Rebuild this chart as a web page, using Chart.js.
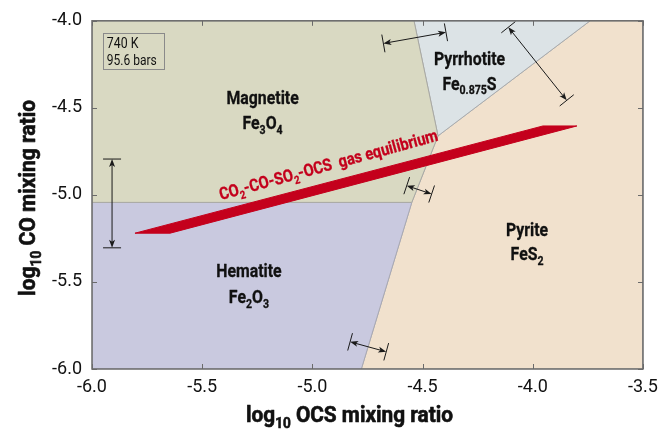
<!DOCTYPE html>
<html><head><meta charset="utf-8">
<script src="https://cdn.jsdelivr.net/npm/chart.js@4.4.1/dist/chart.umd.min.js"></script>
<style>html,body{margin:0;padding:0;background:#fff}#wrap{width:670px;height:432px;position:relative}</style>
</head><body><div id="wrap"><canvas id="c"></canvas></div>
<script>
// ---------- data ----------
const xTicks = [-6.0, -5.5, -5.0, -4.5, -4.0, -3.5];
const yTicks = [-6.0, -5.5, -5.0, -4.5, -4.0];

// stability fields (log10 OCS, log10 CO)
const magnetite  = [[-6.0,-4.0],[-4.539,-4.0],[-4.430,-4.661],[-4.549,-5.043],[-6.0,-5.043],[-6.0,-4.0]];
const hematite   = [[-6.0,-5.043],[-4.549,-5.043],[-4.778,-6.0],[-6.0,-6.0],[-6.0,-5.043]];
const pyrrhotite = [[-4.539,-4.0],[-3.740,-4.0],[-4.430,-4.661],[-4.539,-4.0]];
const pyrite     = [[-3.740,-4.0],[-3.5,-4.0],[-3.5,-6.0],[-4.778,-6.0],[-4.549,-5.043],[-4.430,-4.661],[-3.740,-4.0]];

// CO2-CO-SO2-OCS gas equilibrium band
const gasBand = [[-5.805,-5.220],[-5.646,-5.220],[-3.800,-4.604],[-3.954,-4.604],[-5.805,-5.220]];

// uncertainty arrows (start, end)
const errorBars = [
  [[-5.909,-4.794],[-5.909,-5.304]],
  [[-4.678,-4.130],[-4.394,-4.066]],
  [[-4.111,-4.037],[-3.846,-4.457]],
  [[-4.572,-4.947],[-4.459,-4.995]],
  [[-4.829,-5.844],[-4.665,-5.901]]
];

const fieldNames    = ['Magnetite','Pyrrhotite','Hematite','Pyrite'];
const fieldFormulas = ['Fe_{3}O_{4}','Fe_{0.875}S','Fe_{2}O_{3}','FeS_{2}'];
const conditions    = ['740 K','95.6 bars'];
const gasLabel      = 'CO_{2}-CO-SO_{2}-OCS  gas equilibrium';
const xTitle = 'log_{10} OCS mixing ratio';
const yTitle = 'log_{10} CO mixing ratio';

// ---------- layout / style ----------
const FONT = 'Roboto, "DejaVu Sans", sans-serif';
const SX = 0.88; // horizontal condensing of annotation text
const fieldLabelPos = [[-5.226,-4.442,-4.585],[-4.287,-4.216,-4.359],[-5.288,-5.433,-5.586],[-4.026,-5.197,-5.338]];
const gasLabelPos = [-5.415,-5.030];
const boxPos = [-5.951,-4.070,-5.673,-4.278];

const toXY = a => a.map(p => ({x:p[0], y:p[1]}));

function parseRich(s){
  const segs=[]; const re=/_\{([^}]*)\}/g; let last=0,m;
  while((m=re.exec(s))){ if(m.index>last) segs.push({t:s.slice(last,m.index),sub:false}); segs.push({t:m[1],sub:true}); last=re.lastIndex; }
  if(last<s.length) segs.push({t:s.slice(last),sub:false});
  return segs;
}
// draws text with subscripts; o.sx = horizontal scale, o.fit = target width, o.stroke = extra weight
function drawRich(ctx,s,x,y,size,weight,color,align,o){
  o=o||{};
  const segs=parseRich(s); const subSize=Math.round(size*0.64);
  let w=0;
  for(const g of segs){ ctx.font=`${weight} ${g.sub?subSize:size}px ${FONT}`; g.w=ctx.measureText(g.t).width; w+=g.w; }
  const sx = o.fit ? o.fit/w : (o.sx||1);
  ctx.save();
  ctx.translate(x,y); ctx.scale(sx,1);
  let cx = align==='left'?0:(align==='right'?-w:-w/2);
  ctx.fillStyle=color; ctx.strokeStyle=color; ctx.lineJoin='round';
  ctx.textAlign='left'; ctx.textBaseline='alphabetic';
  for(const g of segs){
    ctx.font=`${weight} ${g.sub?subSize:size}px ${FONT}`;
    const ty = g.sub?size*0.26:0;
    ctx.fillText(g.t,cx,ty);
    if(o.stroke){ ctx.lineWidth=o.stroke; ctx.strokeText(g.t,cx,ty); }
    cx+=g.w;
  }
  ctx.restore();
  return w*sx;
}

const deco = {
  id:'deco',
  afterDatasetsDraw(chart){
    const {ctx, chartArea:a, scales:{x,y}} = chart;
    const px=v=>x.getPixelForValue(v), py=v=>y.getPixelForValue(v);
    ctx.save();
    // uncertainty arrows
    ctx.strokeStyle='#1a1a1a'; ctx.fillStyle='#1a1a1a'; ctx.lineWidth=1;
    for(const [p,q] of errorBars){
      const x1=px(p[0]),y1=py(p[1]),x2=px(q[0]),y2=py(q[1]);
      const L=Math.hypot(x2-x1,y2-y1), ux=(x2-x1)/L, uy=(y2-y1)/L, nx=-uy, ny=ux;
      const cap=9, hl=8, hw=3;
      ctx.beginPath(); ctx.moveTo(x1+ux*4,y1+uy*4); ctx.lineTo(x2-ux*4,y2-uy*4); ctx.stroke();
      ctx.beginPath(); ctx.moveTo(x1+nx*cap,y1+ny*cap); ctx.lineTo(x1-nx*cap,y1-ny*cap);
      ctx.moveTo(x2+nx*cap,y2+ny*cap); ctx.lineTo(x2-nx*cap,y2-ny*cap); ctx.stroke();
      for(const [tx,ty,s] of [[x1,y1,1],[x2,y2,-1]]){
        ctx.beginPath(); ctx.moveTo(tx,ty);
        ctx.lineTo(tx+s*ux*hl+nx*hw, ty+s*uy*hl+ny*hw);
        ctx.lineTo(tx+s*ux*hl*0.75, ty+s*uy*hl*0.75);
        ctx.lineTo(tx+s*ux*hl-nx*hw, ty+s*uy*hl-ny*hw);
        ctx.closePath(); ctx.fill();
      }
    }
    // field labels
    fieldNames.forEach((n,i)=>{
      const [lx,ly1,ly2]=fieldLabelPos[i];
      drawRich(ctx,n,px(lx),py(ly1)+6.5,18,'bold','#111','center',{sx:SX,stroke:0.3});
      drawRich(ctx,fieldFormulas[i],px(lx),py(ly2)+6.5,18,'bold','#111','center',{sx:SX,stroke:0.3});
    });
    // conditions box
    ctx.strokeStyle='#8a8a8a'; ctx.lineWidth=1;
    const bx1=px(boxPos[0]),by1=py(boxPos[1]),bx2=px(boxPos[2]),by2=py(boxPos[3]);
    ctx.strokeRect(Math.round(bx1)+0.5,Math.round(by1)+0.5,Math.round(bx2-bx1),Math.round(by2-by1));
    drawRich(ctx,conditions[0],bx1+4,by1+15,14,'normal','#111','left',{sx:SX});
    drawRich(ctx,conditions[1],bx1+4,by1+32,14,'normal','#111','left',{fit:50});
    // gas label
    ctx.save();
    ctx.translate(px(gasLabelPos[0]),py(gasLabelPos[1]));
    ctx.rotate(-15.3*Math.PI/180);
    drawRich(ctx,gasLabel,0,0,17,'bold','#c4001c','left',{fit:226,stroke:0.3});
    ctx.restore();
    // frame
    ctx.strokeStyle='#6a6a6a'; ctx.lineWidth=1.5;
    ctx.strokeRect(a.left,a.top,a.right-a.left,a.bottom-a.top);
    // inward ticks
    ctx.lineWidth=1;
    for(const t of xTicks){ const X=Math.round(px(t))+0.5;
      ctx.beginPath(); ctx.moveTo(X,a.bottom); ctx.lineTo(X,a.bottom-5); ctx.moveTo(X,a.top); ctx.lineTo(X,a.top+5); ctx.stroke(); }
    for(const t of yTicks){ const Y=Math.round(py(t))+0.5;
      ctx.beginPath(); ctx.moveTo(a.left,Y); ctx.lineTo(a.left+5,Y); ctx.moveTo(a.right,Y); ctx.lineTo(a.right-5,Y); ctx.stroke(); }
    // axis titles
    drawRich(ctx,xTitle,349.5,422,21.5,'bold','#111','center',{fit:207,stroke:0.6});
    ctx.save(); ctx.translate(35,(a.top+a.bottom)/2+3); ctx.rotate(-Math.PI/2);
    drawRich(ctx,yTitle,0,0,21.5,'bold','#111','center',{fit:196,stroke:0.6});
    ctx.restore();
    ctx.restore();
  }
};

const poly = (label,pts,color,border) => ({
  label, data: toXY(pts), showLine:true, fill:'shape', backgroundColor:color,
  borderColor: border||color, borderWidth: 1, pointRadius:0, tension:0
});

new Chart(document.getElementById('c'), {
  type:'scatter',
  data:{ datasets:[
    poly('Gas equilibrium',gasBand,'#c4001c'),
    poly('Magnetite',magnetite,'#d9d9c2','#a9a9a4'),
    poly('Hematite',hematite,'#c9c9df','#a9a9b4'),
    poly('Pyrrhotite',pyrrhotite,'#dce3e6','#a9abad'),
    poly('Pyrite',pyrite,'#f1e1cd','#a9a9a9')
  ]},
  options:{
    responsive:true, maintainAspectRatio:false, animation:false,
    layout:{padding:{top:19,right:27,left:0,bottom:0}},
    plugins:{legend:{display:false},tooltip:{enabled:false}},
    scales:{
      x:{type:'linear',min:-6,max:-3.5,
        afterBuildTicks:s=>{s.ticks=xTicks.map(v=>({value:v}));},
        afterFit:s=>{s.height=63;},
        grid:{display:false,drawTicks:false}, border:{display:false},
        ticks:{padding:8,color:'#111',font:{family:FONT,size:18},callback:v=>v.toFixed(1),maxRotation:0}},
      y:{type:'linear',min:-6,max:-4,
        afterBuildTicks:s=>{s.ticks=yTicks.map(v=>({value:v}));},
        afterFit:s=>{s.width=92;},
        grid:{display:false,drawTicks:false}, border:{display:false},
        ticks:{padding:10,color:'#111',font:{family:FONT,size:18},callback:v=>v.toFixed(1)}}
    }
  },
  plugins:[deco]
});
</script></body></html>
